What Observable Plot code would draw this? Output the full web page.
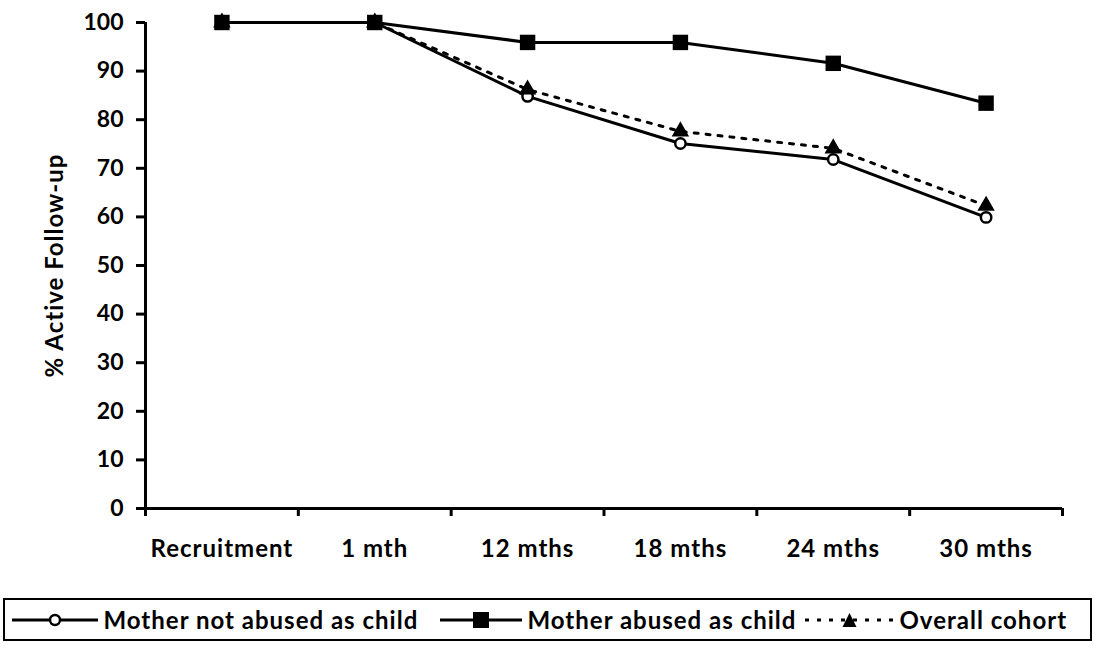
<!DOCTYPE html>
<html>
<head>
<meta charset="utf-8">
<script src="https://cdn.jsdelivr.net/npm/d3@7"></script>
<script src="https://cdn.jsdelivr.net/npm/@observablehq/plot@0.6"></script>
<style>
  html, body { margin: 0; padding: 0; background: #fff; }
  #chart svg { display: block; }
  #chart svg g[aria-label="x-axis tick label"] text { letter-spacing: 1px; }
  #chart svg g[aria-label="text"] text { letter-spacing: 1px; }
  #legend {
    position: absolute; left: 3px; top: 598px; width: 1085px; height: 39px;
    border: 2.5px solid #000; box-sizing: content-box;
    font-family: Lato, "Open Sans", sans-serif; font-size: 24px; font-weight: bold; color: #000;
    letter-spacing: 1px;
  }
  #legend .item { position: absolute; top: 0; height: 39px; display: flex; align-items: center; }
  #legend svg { flex: none; }
  #legend span { white-space: nowrap; margin-left: 4px; }
</style>
</head>
<body>
<div id="chart"></div>
<div id="legend"></div>
<script>
const categories = ["Recruitment", "1 mth", "12 mths", "18 mths", "24 mths", "30 mths"];
const notAbused = [100, 100, 84.8, 75.1, 71.8, 59.9];
const abused = [100, 100, 95.9, 95.9, 91.6, 83.4];
const overall = [100, 100, 86.2, 77.6, 74.1, 62.3];
const yTicks = [0, 10, 20, 30, 40, 50, 60, 70, 80, 90, 100];
const seriesNames = ["Mother not abused as child", "Mother abused as child", "Overall cohort"];

const rows = (vals) => vals.map((v, i) => ({i, v}));
const dNot = rows(notAbused), dAb = rows(abused), dOv = rows(overall);
const idx = categories.map((_, i) => i);
const bounds = [...idx.map(i => i - 0.5), categories.length - 0.5];

const font = "Lato, 'Open Sans', sans-serif";

const chart = Plot.plot({
  width: 1098,
  height: 585,
  marginLeft: 145,
  marginRight: 36,
  marginTop: 22,
  marginBottom: 77,
  style: {fontFamily: font, fontSize: "23px", fontWeight: "bold", color: "#000", background: "#fff"},
  x: {domain: [-0.5, categories.length - 0.5]},
  y: {domain: [0, 100]},
  marks: [
    Plot.axisY({ticks: yTicks, tickSize: 9, tickPadding: 13, strokeWidth: 3, label: null, fontSize: 23, fontWeight: "bold"}),
    Plot.ruleX([-0.5], {stroke: "#000", strokeWidth: 3}),
    Plot.text(["% Active Follow-up"], {frameAnchor: "left", textAnchor: "middle", dx: -90, rotate: -90, fontSize: 24, fontWeight: "bold"}),
    Plot.ruleY([0], {stroke: "#000", strokeWidth: 3}),
    Plot.axisX({ticks: bounds, tickFormat: () => "", tickSize: 8, strokeWidth: 3, label: null}),
    Plot.axisX({ticks: idx, tickFormat: i => categories[i], tickSize: 0, tickPadding: 31, label: null, fontSize: 24, fontWeight: "bold"}),
    Plot.line(dOv, {x: "i", y: "v", stroke: "#000", strokeWidth: 3, strokeDasharray: "4,8"}),
    Plot.line(dNot, {x: "i", y: "v", stroke: "#000", strokeWidth: 3}),
    Plot.line(dAb, {x: "i", y: "v", stroke: "#000", strokeWidth: 3}),
    Plot.dot(dNot, {x: "i", y: "v", r: 5.2, fill: "#fff", stroke: "#000", strokeWidth: 2.5}),
    Plot.dot(dOv, {x: "i", y: "v", symbol: "triangle", r: 5.5, fill: "#000", stroke: "#000"}),
    Plot.dot(dAb, {x: "i", y: "v", symbol: "square", r: 8.7, fill: "#000", stroke: "none"})
  ]
});
document.getElementById("chart").appendChild(chart);

// Legend (page-x positions of each swatch; box content starts at 5.5px)
const legendItems = [
  {label: seriesNames[0], symbol: "circle", dash: null, left: 10, w: 90},
  {label: seriesNames[1], symbol: "square", dash: null, left: 438, w: 86},
  {label: seriesNames[2], symbol: "triangle", dash: "4,8", left: 803, w: 93}
];
const legend = document.getElementById("legend");
const ns = "http://www.w3.org/2000/svg";
for (const it of legendItems) {
  const item = document.createElement("div");
  item.className = "item";
  item.style.left = (it.left - 5.5) + "px";
  const s = document.createElementNS(ns, "svg");
  s.setAttribute("width", it.w); s.setAttribute("height", 20);
  const cx = it.w / 2;
  const ln = document.createElementNS(ns, "line");
  ln.setAttribute("x1", 2); ln.setAttribute("x2", it.w - 2); ln.setAttribute("y1", 10); ln.setAttribute("y2", 10);
  ln.setAttribute("stroke", "#000"); ln.setAttribute("stroke-width", 3);
  if (it.dash) ln.setAttribute("stroke-dasharray", it.dash);
  s.appendChild(ln);
  let m;
  if (it.symbol === "circle") {
    m = document.createElementNS(ns, "circle");
    m.setAttribute("cx", cx); m.setAttribute("cy", 10); m.setAttribute("r", 5);
    m.setAttribute("fill", "#fff"); m.setAttribute("stroke", "#000"); m.setAttribute("stroke-width", 2.5);
  } else if (it.symbol === "square") {
    m = document.createElementNS(ns, "rect");
    m.setAttribute("x", cx - 8); m.setAttribute("y", 2); m.setAttribute("width", 16); m.setAttribute("height", 16);
    m.setAttribute("fill", "#000");
  } else {
    m = document.createElementNS(ns, "path");
    m.setAttribute("d", `M${cx},3 L${cx + 7},17 L${cx - 7},17 Z`);
    m.setAttribute("fill", "#000");
  }
  s.appendChild(m);
  item.appendChild(s);
  const t = document.createElement("span");
  t.textContent = it.label;
  item.appendChild(t);
  legend.appendChild(item);
}
</script>
</body>
</html>
